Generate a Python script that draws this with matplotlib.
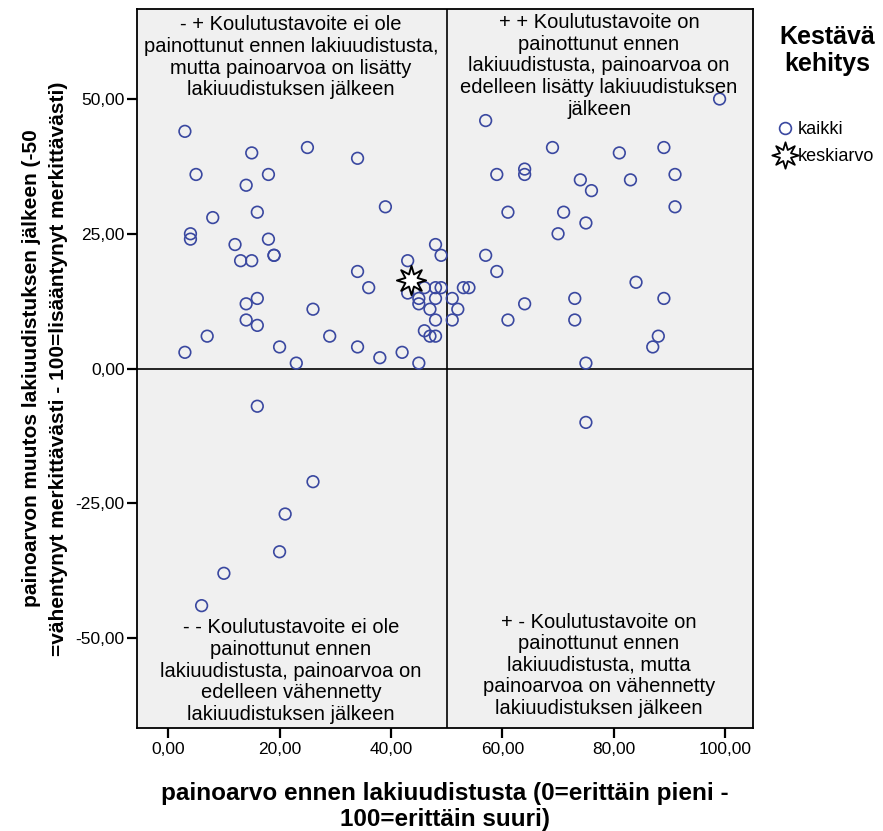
import numpy as np
import matplotlib
matplotlib.use("Agg")
import matplotlib.pyplot as plt
from matplotlib.lines import Line2D
from matplotlib.path import Path
from matplotlib.ticker import FuncFormatter

plt.rcParams['font.family'] = ['Liberation Sans', 'DejaVu Sans']

# painoarvo ennen (x) ja painoarvon muutos (y), luettu kuvasta
ennen = [3, 15, 25, 34, 5, 14, 18, 16, 8, 39, 4, 4, 12, 18, 19, 19, 13, 15,
         34, 36, 16, 14, 26, 14, 16, 7, 29, 3, 20, 34, 38, 23,
         48, 49, 43, 43, 45, 45, 46, 48, 49, 48, 47, 48, 46, 47, 48, 42, 45,
         51, 52, 51, 53, 54, 57, 59, 61, 64,
         99, 57, 69, 81, 89, 59, 64, 64, 74, 83, 91, 76, 61, 71, 75, 70, 91,
         84, 73, 73, 89, 88, 87, 75,
         16, 26, 21, 20, 10, 6, 75]
muutos = [44, 40, 41, 39, 36, 34, 36, 29, 28, 30, 25, 24, 23, 24, 21, 21, 20, 20,
          18, 15, 13, 12, 11, 9, 8, 6, 6, 3, 4, 4, 2, 1,
          23, 21, 20, 14, 13, 12, 15, 15, 15, 13, 11, 9, 7, 6, 6, 3, 1,
          13, 11, 9, 15, 15, 21, 18, 9, 12,
          50, 46, 41, 40, 41, 36, 37, 36, 35, 35, 36, 33, 29, 29, 27, 25, 30,
          16, 13, 9, 13, 6, 4, 1,
          -7, -21, -27, -34, -38, -44, -10]
keskiarvo_x = 43.6
keskiarvo_y = 16.4

x_ticks = [0, 20, 40, 60, 80, 100]
y_ticks = [-50, -25, 0, 25, 50]

teksti_vy = "- + Koulutustavoite ei ole\npainottunut ennen lakiuudistusta,\nmutta painoarvoa on lisätty\nlakiuudistuksen jälkeen"
teksti_oy = "+ + Koulutustavoite on\npainottunut ennen\nlakiuudistusta, painoarvoa on\nedelleen lisätty lakiuudistuksen\njälkeen"
teksti_va = "- - Koulutustavoite ei ole\npainottunut ennen\nlakiuudistusta, painoarvoa on\nedelleen vähennetty\nlakiuudistuksen jälkeen"
teksti_oa = "+ - Koulutustavoite on\npainottunut ennen\nlakiuudistusta, mutta\npainoarvoa on vähennetty\nlakiuudistuksen jälkeen"

blue = '#3a48a0'

# 8-sakarainen tähti keskiarvolle
ang = np.pi / 2 + np.arange(16) * np.pi / 8
rad = np.where(np.arange(16) % 2 == 0, 1.0, 0.45)
verts = np.column_stack([rad * np.cos(ang), rad * np.sin(ang)])
star = Path(np.vstack([verts, verts[:1]]), closed=True)

fig = plt.figure(figsize=(8.83, 8.31), dpi=100)
ax = fig.add_axes([137 / 883, 1 - 728 / 831, (753 - 137) / 883, (728 - 9) / 831])
ax.set_facecolor('#f0f0f0')

ax.axhline(0, color='black', lw=1.2, zorder=1)
ax.axvline(50, color='black', lw=1.2, zorder=1)

ax.scatter(ennen, muutos, s=70, facecolors='none', edgecolors=blue, linewidths=1.2, zorder=3)
ax.plot([keskiarvo_x], [keskiarvo_y], marker=star, markersize=21,
        markerfacecolor='white', markeredgecolor='black', markeredgewidth=1.4,
        linestyle='none', zorder=4)

ax.set_xlim(-5.6, 105)
ax.set_ylim(-66.7, 66.7)
ax.set_xticks(x_ticks)
ax.set_yticks(y_ticks)
fmt = FuncFormatter(lambda v, p: f"{v:.2f}".replace('.', ','))
ax.xaxis.set_major_formatter(fmt)
ax.yaxis.set_major_formatter(fmt)
ax.tick_params(direction='out', length=7, width=1.6, labelsize=12.5, colors='black', pad=2)
ax.tick_params(axis='x', pad=3)
for s in ax.spines.values():
    s.set_linewidth(1.3)

kw = dict(transform=ax.transAxes, ha='center', fontsize=14.5, linespacing=1.17)
ax.text(0.250, 0.991, teksti_vy, va='top', **kw)
ax.text(0.750, 0.994, teksti_oy, va='top', **kw)
ax.text(0.250, 0.006, teksti_va, va='bottom', **kw)
ax.text(0.750, 0.014, teksti_oa, va='bottom', **kw)

ax.set_xlabel("painoarvo ennen lakiuudistusta (0=erittäin pieni -\n100=erittäin suuri)",
              fontsize=17.5, fontweight='bold', linespacing=1.15, labelpad=18)
ax.set_ylabel("painoarvon muutos lakiuudistuksen jälkeen (-50\n=vähentynyt merkittävästi - 100=lisääntynyt merkittävästi)",
              fontsize=15, fontweight='bold', linespacing=1.55, labelpad=5)

fig.text(827 / 883, 1 - 25 / 831, "Kestävä\nkehitys", ha='center', va='top',
         fontsize=18, fontweight='bold', linespacing=1.15)
handles = [
    Line2D([], [], marker='o', linestyle='none', markersize=8.5, markerfacecolor='none',
           markeredgecolor=blue, markeredgewidth=1.2, label='kaikki'),
    Line2D([], [], marker=star, linestyle='none', markersize=19, markerfacecolor='white',
           markeredgecolor='black', markeredgewidth=1.3, label='keskiarvo'),
]
fig.legend(handles=handles, loc='upper left', bbox_to_anchor=(763 / 883, 1 - 112 / 831),
           frameon=False, fontsize=13, handletextpad=0.05, handlelength=1.4,
           borderpad=0.0, labelspacing=0.55)

fig.savefig('out.png', dpi=100, facecolor='white')
